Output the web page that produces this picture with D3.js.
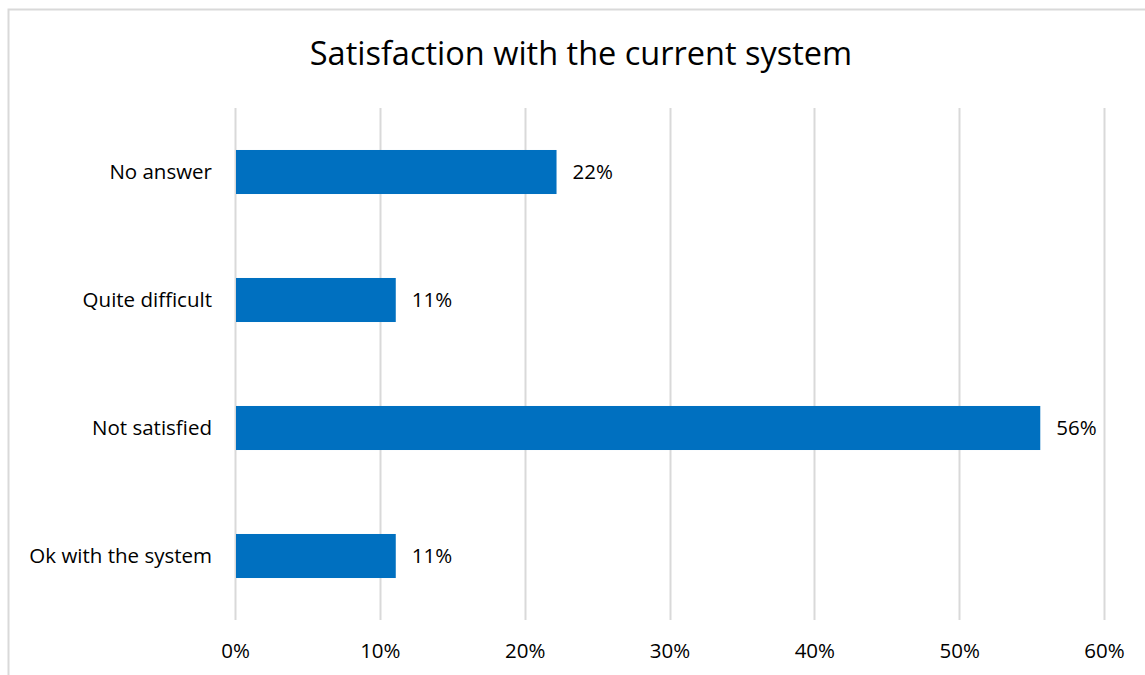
<!DOCTYPE html>
<html>
<head>
  <meta charset='utf-8'>
  <script src='https://cdn.jsdelivr.net/npm/d3@7/dist/d3.min.js'></script>
  <style>
    body { margin: 0; background: #fff; }
    text { font-family: 'Open Sans', sans-serif; fill: #000; }
  </style>
</head>
<body>
  <div id='chart'></div>
  <script>
    var categories = ['No answer', 'Quite difficult', 'Not satisfied', 'Ok with the system'];
    var values = [0.222, 0.111, 0.556, 0.111];
    var valueLabels = ['22%', '11%', '56%', '11%'];
    var ticks = [0, 0.1, 0.2, 0.3, 0.4, 0.5, 0.6];

    var width = 1145, height = 675;
    var margin = { top: 108, right: 41, bottom: 55, left: 235 };
    var labelFont = 'Open Sans, sans-serif';

    var svg = d3.select('#chart').append('svg')
      .attr('width', width)
      .attr('height', height);

    // chart frame
    svg.append('rect')
      .attr('x', 8.5).attr('y', 9.5)
      .attr('width', width + 10).attr('height', height + 10)
      .attr('fill', 'none')
      .attr('stroke', '#d9d9d9')
      .attr('stroke-width', 2);

    svg.append('text')
      .attr('x', 581).attr('y', 65)
      .attr('text-anchor', 'middle')
      .style('font-size', '32.5px')
      .text('Satisfaction with the current system');

    var x = d3.scaleLinear().domain([0, 0.6]).range([margin.left, width - margin.right]);
    var y = d3.scaleBand().domain(categories)
      .range([margin.top, height - margin.bottom])
      .paddingInner(0.656).paddingOuter(0.328);

    var plotBottom = height - margin.bottom;

    svg.append('g').selectAll('line')
      .data(ticks).enter().append('line')
      .attr('x1', function(d) { return Math.round(x(d)) + 0.5; })
      .attr('x2', function(d) { return Math.round(x(d)) + 0.5; })
      .attr('y1', margin.top).attr('y2', plotBottom)
      .attr('stroke', '#d9d9d9')
      .attr('stroke-width', 2);

    var xAxis = svg.append('g')
      .attr('transform', 'translate(0,' + plotBottom + ')')
      .call(d3.axisBottom(x).tickValues(ticks).tickFormat(d3.format('.0%')).tickSize(0).tickPadding(23));
    xAxis.select('.domain').remove();
    xAxis.selectAll('text').style('font-size', '20.5px').style('font-family', labelFont).attr('fill', '#000');

    var yAxis = svg.append('g')
      .attr('transform', 'translate(' + margin.left + ',0)')
      .call(d3.axisLeft(y).tickSize(0).tickPadding(23));
    yAxis.select('.domain').remove();
    yAxis.selectAll('text').style('font-size', '20.5px').style('font-family', labelFont).attr('fill', '#000');

    var rows = categories.map(function(c, i) { return { cat: c, v: values[i], label: valueLabels[i] }; });

    svg.append('g').selectAll('rect')
      .data(rows).enter().append('rect')
      .attr('x', x(0) + 1)
      .attr('y', function(d) { return y(d.cat); })
      .attr('width', function(d) { return x(d.v) - x(0) - 1; })
      .attr('height', y.bandwidth())
      .attr('fill', '#0070c0');

    svg.append('g').selectAll('text')
      .data(rows).enter().append('text')
      .attr('x', function(d) { return x(d.v) + 16; })
      .attr('y', function(d) { return y(d.cat) + y.bandwidth() / 2; })
      .attr('dy', '0.35em')
      .style('font-size', '20.5px')
      .text(function(d) { return d.label; });
  </script>
</body>
</html>
